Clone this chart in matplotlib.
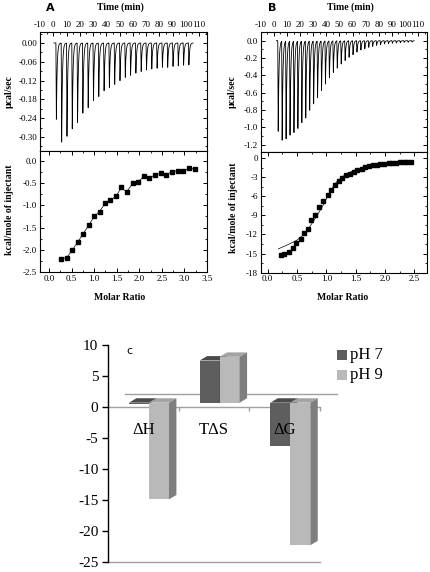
import numpy as np
import matplotlib
matplotlib.use('Agg')
import matplotlib.pyplot as plt
from matplotlib.patches import Polygon, Rectangle
from matplotlib.ticker import AutoMinorLocator, FormatStrFormatter

plt.rcParams['axes.unicode_minus'] = False
SERIF = 'Liberation Serif'

W, H = 431, 572

# ---- ITC panel A ----
a_inj_time = [2, 6, 10, 14, 18, 22, 26, 30, 34, 38, 42, 46, 50, 54, 58, 62, 66, 70,
              74, 78, 82, 86, 90, 94, 98, 102]
a_inj_peak = [0.246, 0.32, 0.30, 0.278, 0.255, 0.228, 0.207, 0.187, 0.171, 0.155, 0.142,
              0.134, 0.121, 0.111, 0.104, 0.097, 0.092, 0.087, 0.084, 0.081, 0.079, 0.078,
              0.076, 0.073, 0.072, 0.070]
a_ratio = [0.27, 0.39, 0.52, 0.64, 0.75, 0.88, 1.00, 1.12, 1.24, 1.36, 1.49, 1.60, 1.72,
           1.85, 1.97, 2.10, 2.22, 2.34, 2.47, 2.59, 2.72, 2.85, 2.97, 3.10, 3.23]
a_heat = [-2.20, -2.18, -2.00, -1.82, -1.65, -1.45, -1.25, -1.14, -0.96, -0.89, -0.79, -0.60,
          -0.70, -0.51, -0.48, -0.35, -0.38, -0.33, -0.28, -0.31, -0.25, -0.22, -0.24, -0.16,
          -0.19]

# ---- ITC panel B ----
b_inj_time = [3, 6, 9, 12, 15, 18, 21, 24, 27, 30, 33, 36, 39, 42, 45, 48, 51, 54, 57, 60,
              63, 66, 69, 72, 75, 78, 81, 84, 87, 90, 93, 96, 99, 102, 105]
b_inj_peak = [1.054, 1.163, 1.132, 1.105, 1.066, 1.016, 0.957, 0.891, 0.814, 0.733, 0.659,
              0.581, 0.50, 0.434, 0.368, 0.318, 0.271, 0.229, 0.194, 0.163, 0.132, 0.109,
              0.093, 0.078, 0.066, 0.054, 0.047, 0.039, 0.035, 0.031, 0.027, 0.023, 0.019,
              0.019, 0.016]
b_ratio = [0.22, 0.28, 0.36, 0.43, 0.49, 0.56, 0.62, 0.68, 0.74, 0.81, 0.88, 0.95, 1.02,
           1.08, 1.14, 1.21, 1.27, 1.34, 1.40, 1.47, 1.53, 1.60, 1.66, 1.73, 1.79, 1.86,
           1.92, 1.99, 2.06, 2.12, 2.19, 2.25, 2.32, 2.38, 2.45]
b_heat = [-15.15, -15.1, -14.68, -14.2, -13.37, -12.69, -11.7, -11.07, -9.76, -8.87, -7.71,
          -6.71, -5.77, -5.04, -4.3, -3.67, -3.1, -2.73, -2.47, -2.15, -1.89, -1.68, -1.47,
          -1.31, -1.16, -1.05, -1.0, -0.9, -0.84, -0.79, -0.73, -0.68, -0.63, -0.63, -0.6]
b_fit_x = [0.18, 0.32, 0.49, 0.61, 0.72, 0.83, 0.95, 1.06, 1.17, 1.28, 1.45, 1.68, 1.97, 2.42]
b_fit_y = [-14.26, -13.7, -12.95, -12.06, -10.75, -9.18, -7.34, -5.25, -3.78, -2.89, -2.0,
           -1.31, -0.9, -0.63]

# ---- panel C ----
params = ['\u0394H', 'T\u0394S', '\u0394G']
ph7 = [-0.2, 6.8, -7.0]
ph9 = [-15.6, 7.4, -23.0]


def rect(x0, y0, x1, y1):
    return [x0 / W, 1 - y1 / H, (x1 - x0) / W, (y1 - y0) / H]


def trace(times, peaks, t0, t1):
    t = np.linspace(t0, t1, 6000)
    y = np.zeros_like(t)
    for ti, hi in zip(times, peaks):
        u = t - ti
        rise = (u >= 0) & (u < 0.35)
        y[rise] -= hi * u[rise] / 0.35
        dec = u >= 0.35
        y[dec] -= hi * np.exp(-(u[dec] - 0.35) / 0.55)
    return t, y


def style(ax, top=True):
    ax.tick_params(which='both', direction='in', top=True, right=True, bottom=not top,
                   labeltop=top, labelbottom=not top, labelsize=6.5, pad=2)
    ax.tick_params(which='major', length=3, width=0.7)
    ax.tick_params(which='minor', length=1.5, width=0.6)
    for s in ax.spines.values():
        s.set_linewidth(0.8)
    for lab in ax.get_xticklabels() + ax.get_yticklabels():
        lab.set_family(SERIF)
    ax.xaxis.set_minor_locator(AutoMinorLocator(2))
    ax.yaxis.set_minor_locator(AutoMinorLocator(2))


fig = plt.figure(figsize=(W / 100, H / 100), dpi=100)

# A raw
ax = fig.add_axes(rect(40, 32, 207, 151))
t, y = trace(a_inj_time, a_inj_peak, 0.5, 105.5)
ax.plot(t, y, color='k', lw=0.6)
ax.set_xlim(-10, 116)
ax.set_ylim(-0.345, 0.035)
ax.set_xticks(range(-10, 111, 10))
ax.set_yticks([0, -0.06, -0.12, -0.18, -0.24, -0.30])
ax.yaxis.set_major_formatter(FormatStrFormatter('%.2f'))
style(ax, True)

# A isotherm
ax = fig.add_axes(rect(40, 151, 207, 272))
ax.plot(a_ratio, a_heat, color='k', lw=0.5)
ax.plot(a_ratio, a_heat, 's', color='k', ms=3)
ax.set_xlim(-0.2, 3.5)
ax.set_ylim(-2.5, 0.22)
ax.set_xticks(np.arange(0, 3.6, 0.5))
ax.set_yticks([0, -0.5, -1.0, -1.5, -2.0, -2.5])
ax.xaxis.set_major_formatter(FormatStrFormatter('%.1f'))
ax.yaxis.set_major_formatter(FormatStrFormatter('%.1f'))
style(ax, False)

# B raw
ax = fig.add_axes(rect(260.7, 32, 426.7, 152.3))
t, y = trace(b_inj_time, b_inj_peak, 2, 107)
ax.plot(t, y, color='k', lw=0.6)
ax.set_xlim(-10, 116.5)
ax.set_ylim(-1.29, 0.1)
ax.set_xticks(range(-10, 111, 10))
ax.set_yticks([0, -0.2, -0.4, -0.6, -0.8, -1.0, -1.2])
ax.yaxis.set_major_formatter(FormatStrFormatter('%.1f'))
style(ax, True)

# B isotherm
ax = fig.add_axes(rect(260.7, 152.3, 426.7, 272.7))
ax.plot(b_fit_x, b_fit_y, color='k', lw=0.5)
ax.plot(b_ratio, b_heat, 's', color='k', ms=3)
ax.set_xlim(-0.12, 2.71)
ax.set_ylim(-18, 0.9)
ax.set_xticks(np.arange(0, 2.6, 0.5))
ax.set_yticks(range(0, -19, -3))
ax.xaxis.set_major_formatter(FormatStrFormatter('%.1f'))
style(ax, False)

lab = dict(family=SERIF, weight='bold', fontsize=7, ha='center', va='center')
fig.text(120 / W, 1 - 7 / H, 'Time (min)', **lab)
fig.text(350 / W, 1 - 7 / H, 'Time (min)', **lab)
fig.text(120 / W, 1 - 297 / H, 'Molar Ratio', **lab)
fig.text(343 / W, 1 - 298 / H, 'Molar Ratio', **lab)
fig.text(9 / W, 1 - 92 / H, '\u00b5cal/sec', rotation=90, **lab)
fig.text(232 / W, 1 - 92 / H, '\u00b5cal/sec', rotation=90, **lab)
fig.text(10 / W, 1 - 210 / H, 'kcal/mole of injectant', rotation=90, **lab)
fig.text(233 / W, 1 - 208 / H, 'kcal/mole of injectant', rotation=90, **lab)
fig.text(50 / W, 1 - 8 / H, 'A', fontsize=8, weight='bold', ha='center', va='center')
fig.text(272 / W, 1 - 8 / H, 'B', fontsize=8, weight='bold', ha='center', va='center')

# ---- panel C: pseudo 3D columns ----
ax = fig.add_axes(rect(108, 345, 340, 562))
ax.set_xlim(-0.5, 2.783)
ax.set_ylim(-25, 10)
for s in ['top', 'right', 'bottom']:
    ax.spines[s].set_visible(False)
ax.spines['left'].set_linewidth(1.0)
ax.set_xticks([])
ax.set_yticks(range(-25, 11, 5))
ax.tick_params(axis='y', direction='out', length=4, width=1.0, labelsize=11, pad=3)
for lab_ in ax.get_yticklabels():
    lab_.set_family(SERIF)

grey = '#a0a0a0'
ax.plot([-0.5 + 0.24, 2.5 + 0.24], [2.1, 2.1], color=grey, lw=1, zorder=0.5)
ax.plot([-0.5, 2.5], [0, 0], color=grey, lw=1, zorder=0.6)
ax.vlines([0.5, 1.5, 2.5], -0.7, 0, color=grey, lw=1, zorder=0.6)
ax.plot([-0.5, 2.5], [-25, -25], color=grey, lw=1, clip_on=False, zorder=0.6)

bw, sx, sy, ddx, ddy = 0.283, 0.08, 0.7, 0.105, 0.71
faces = {'pH 7': ('#5e5e5e', '#4a4a4a', '#474747'),
         'pH 9': ('#b9b9b9', '#a4a4a4', '#7e7e7e')}
for i in range(len(params)):
    c = i + sx
    for x0, v, key in [(c - bw, ph7[i], 'pH 7'), (c, ph9[i], 'pH 9')]:
        front, topc, side = faces[key]
        b0, b1 = sy + min(v, 0), sy + max(v, 0)
        ax.add_patch(Polygon([(x0, b0), (x0 + bw, b0), (x0 + bw, b1), (x0, b1)],
                             closed=True, fc=front, ec='none', zorder=2))
        ax.add_patch(Polygon([(x0, b1), (x0 + bw, b1), (x0 + bw + ddx, b1 + ddy),
                              (x0 + ddx, b1 + ddy)], closed=True, fc=topc, ec='none', zorder=2))
        ax.add_patch(Polygon([(x0 + bw, b0), (x0 + bw + ddx, b0 + ddy),
                              (x0 + bw + ddx, b1 + ddy), (x0 + bw, b1)],
                             closed=True, fc=side, ec='none', zorder=2))
    ax.text(i, -3.66, params[i], family=SERIF, fontsize=12, ha='center', va='center', zorder=3)

ax.text(129 / W, 1 - 351 / H, 'c', transform=fig.transFigure, fontsize=8,
        ha='center', va='center')
for k, (key, yy) in enumerate([('pH 7', 350), ('pH 9', 370)]):
    fig.add_artist(Rectangle((337 / W, 1 - (yy + 10) / H), 10 / W, 10 / H,
                             transform=fig.transFigure, fc=faces[key][0], ec='none'))
    fig.text(350 / W, 1 - (yy + 5) / H, key, family=SERIF, fontsize=12, va='center')

fig.savefig('out.png', dpi=100)
